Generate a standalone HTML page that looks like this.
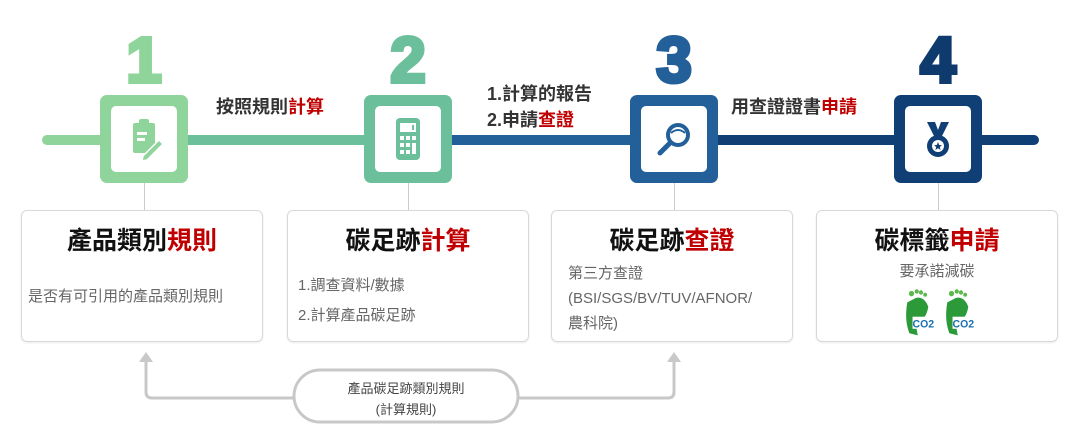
<!DOCTYPE html>
<html><head><meta charset="utf-8"><style>
body{margin:0;width:1070px;height:433px;background:#fff;position:relative;overflow:hidden;font-family:"Liberation Sans","Noto Sans CJK TC",sans-serif}
.a{position:absolute}
.num{position:absolute;top:28px;width:88px;text-align:center;font:900 64px/64px "Liberation Sans",sans-serif;-webkit-text-stroke:4px currentColor}
.box{position:absolute;top:95px;width:88px;height:88px;border-radius:7px}
.box .in{position:absolute;left:11px;top:11px;width:66px;height:66px;background:#fff;border-radius:5px}
.box svg{position:absolute;left:11px;top:11px}
.lbl{position:absolute;font-weight:bold;font-size:18px;color:#333;white-space:nowrap}
.r{color:#c00000}
.card{position:absolute;top:210px;width:242px;height:132px;border:1px solid #d8d8d8;border-radius:6px;box-sizing:border-box;box-shadow:0 1px 2px rgba(0,0,0,.08)}
.card h3{margin:0;position:absolute;top:10px;width:100%;text-align:center;font-size:25px;font-weight:bold;color:#111}
.sub{position:absolute;font-size:15px;color:#666;line-height:22px}
.vl{position:absolute;top:183px;width:1px;height:27px;background:#ccc}
</style></head><body>
<div class="a" style="left:42px;top:135px;width:60px;height:10px;background:#8fd49a;border-radius:5px 0 0 5px"></div>
<div class="a" style="left:188px;top:135px;width:176px;height:10px;background:#6bbf9b"></div>
<div class="a" style="left:452px;top:135px;width:178px;height:10px;background:#23609a"></div>
<div class="a" style="left:718px;top:135px;width:176px;height:10px;background:#0f3f75"></div>
<div class="a" style="left:982px;top:135px;width:57px;height:10px;background:#0f3f75;border-radius:0 5px 5px 0"></div>

<div class="num" style="left:100px;color:#8fd49a">1</div>
<div class="num" style="left:364px;color:#6bbf9b">2</div>
<div class="num" style="left:630px;color:#23609a">3</div>
<div class="num" style="left:894px;color:#0f3a6e">4</div>

<div class="box" style="left:100px;background:#8fd49a"><div class="in"></div>
<svg width="66" height="66"><rect x="22" y="17" width="22" height="30" rx="2" fill="#8fd49a"/><rect x="28" y="13" width="10" height="7" rx="2" fill="#8fd49a"/><rect x="26" y="26" width="10" height="3" fill="#fff"/><rect x="26" y="32" width="8" height="3" fill="#fff"/><path d="M32 50 L48 34 L52 38 L36 54 L31 55 Z" fill="#8fd49a" stroke="#fff" stroke-width="1.5"/></svg></div>
<div class="box" style="left:364px;background:#6bbf9b"><div class="in"></div>
<svg width="66" height="66"><rect x="21" y="12" width="24" height="42" rx="4" fill="#6bbf9b"/><rect x="25" y="17" width="16" height="9" fill="#fff"/><rect x="37" y="19" width="2" height="5" fill="#6bbf9b"/><g fill="#fff"><rect x="25" y="30" width="4" height="4"/><rect x="31" y="30" width="4" height="4"/><rect x="37" y="30" width="4" height="4"/><rect x="25" y="37" width="4" height="4"/><rect x="31" y="37" width="4" height="4"/><rect x="25" y="44" width="4" height="4"/><rect x="31" y="44" width="4" height="4"/><rect x="37" y="37" width="4" height="11"/></g></svg></div>
<div class="box" style="left:630px;background:#23609a"><div class="in"></div>
<svg width="66" height="66"><circle cx="37" cy="29" r="10" fill="none" stroke="#23609a" stroke-width="4"/><path d="M30 27 Q37 21 44 27" fill="none" stroke="#23609a" stroke-width="2"/><line x1="29" y1="37" x2="19" y2="47" stroke="#23609a" stroke-width="5" stroke-linecap="round"/></svg></div>
<div class="box" style="left:894px;background:#0f3f75"><div class="in"></div>
<svg width="66" height="66"><path d="M22 16 L30 16 L33 24 L36 16 L44 16 L37 30 L29 30 Z" fill="#0f3f75"/><circle cx="33" cy="40" r="11" fill="#0f3f75"/><circle cx="33" cy="40" r="6" fill="#fff"/><path d="M33 36 L34.2 39 L37 39.2 L34.8 41 L35.6 44 L33 42.3 L30.4 44 L31.2 41 L29 39.2 L31.8 39 Z" fill="#0f3f75"/></svg></div>

<div class="lbl" style="left:216px;top:93px">按照規則<span class="r">計算</span></div>
<div class="lbl" style="left:487px;top:80px">1.計算的報告</div>
<div class="lbl" style="left:487px;top:106px">2.申請<span class="r">查證</span></div>
<div class="lbl" style="left:731px;top:93px">用查證證書<span class="r">申請</span></div>

<div class="vl" style="left:144px"></div><div class="vl" style="left:408px"></div><div class="vl" style="left:674px"></div><div class="vl" style="left:938px"></div>

<div class="card" style="left:21px"><h3>產品類別<span class="r">規則</span></h3><div class="sub" style="left:6px;top:75px">是否有可引用的產品類別規則</div></div>
<div class="card" style="left:287px"><h3>碳足跡<span class="r">計算</span></h3><div class="sub" style="left:10px;top:60px;line-height:30px">1.調查資料/數據<br>2.計算產品碳足跡</div></div>
<div class="card" style="left:551px"><h3>碳足跡<span class="r">查證</span></h3><div class="sub" style="left:16px;top:50px;line-height:25px">第三方查證<br>(BSI/SGS/BV/TUV/AFNOR/<br>農科院)</div></div>
<div class="card" style="left:816px"><h3>碳標籤<span class="r">申請</span></h3><div class="sub" style="left:0;width:100%;text-align:center;top:50px">要承諾減碳</div>
<svg class="a" style="left:84px;top:76px" width="80" height="50">
<g transform="scale(1.05,1.1)"><path d="M6 14 Q3 30 8 42 L16 44 L14 34 Q24 30 26 18 Q22 8 14 10 Z" fill="#2d9a3a"/><circle cx="10" cy="6" r="2.5" fill="#5bb84a"/><circle cx="15" cy="4" r="2" fill="#5bb84a"/><circle cx="19" cy="5" r="2" fill="#5bb84a"/><circle cx="23" cy="7" r="1.8" fill="#5bb84a"/><rect x="11" y="27" width="17" height="11" fill="#fff"/><text x="11" y="37" font-size="10" font-weight="bold" fill="#1a6fb0" font-family="Liberation Sans">CO2</text></g>
<g transform="translate(40,0) scale(1.05,1.1)"><path d="M6 14 Q3 30 8 42 L16 44 L14 34 Q24 30 26 18 Q22 8 14 10 Z" fill="#2d9a3a"/><circle cx="10" cy="6" r="2.5" fill="#5bb84a"/><circle cx="15" cy="4" r="2" fill="#5bb84a"/><circle cx="19" cy="5" r="2" fill="#5bb84a"/><circle cx="23" cy="7" r="1.8" fill="#5bb84a"/><rect x="11" y="27" width="17" height="11" fill="#fff"/><text x="11" y="37" font-size="10" font-weight="bold" fill="#1a6fb0" font-family="Liberation Sans">CO2</text></g>
</svg></div>

<svg class="a" style="left:0;top:0" width="1070" height="433">
<path d="M146 360 L146 392 Q146 398 152 398 L296 398 M516 398 L668 398 Q674 398 674 392 L674 360" fill="none" stroke="#c8c8c8" stroke-width="3"/>
<path d="M139 362 L146 352 L153 362 Z M667 362 L674 352 L681 362 Z" fill="#c8c8c8"/>
<rect x="294" y="370" width="224" height="52" rx="26" fill="#fff" stroke="#c8c8c8" stroke-width="3"/>
</svg>
<div class="a" style="left:294px;top:378px;width:224px;text-align:center;font-size:13px;line-height:21px;color:#444">產品碳足跡類別規則<br>(計算規則)</div>
</body></html>
